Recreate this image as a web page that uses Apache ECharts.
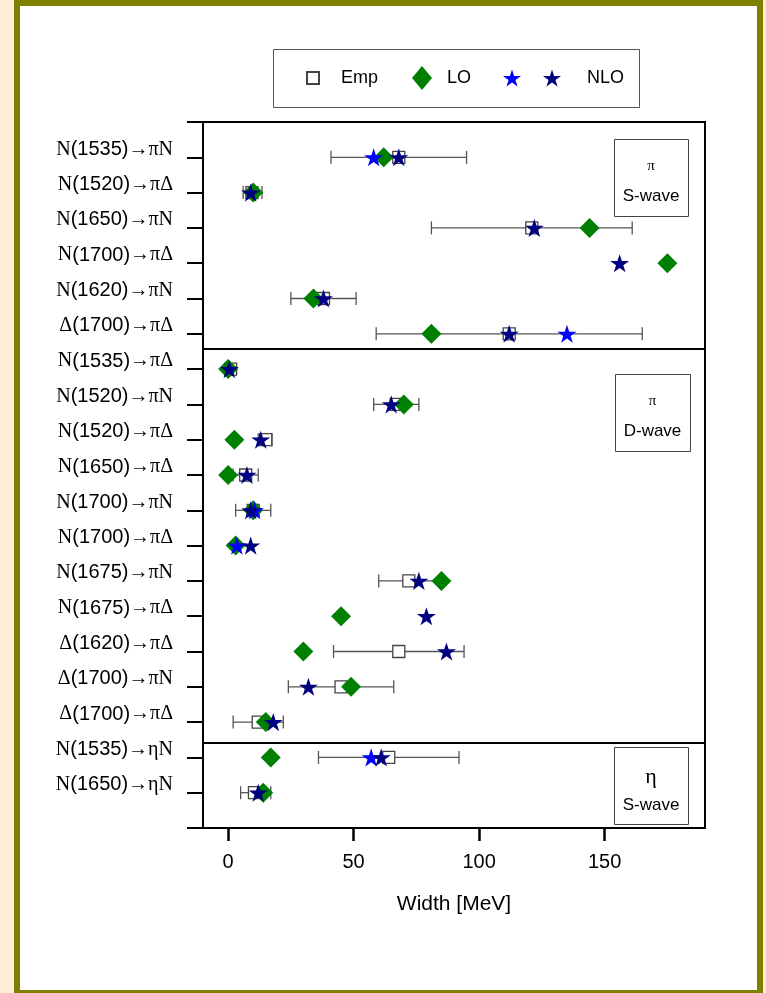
<!DOCTYPE html>
<html>
<head>
<meta charset="utf-8">
<script src="https://cdn.jsdelivr.net/npm/echarts@6/dist/echarts.min.js"></script>
<style>
html,body{margin:0;padding:0;background:#FCEFD6;}
#chart{width:766px;height:993px;}
</style>
</head>
<body>
<div id="chart"></div>
<script>
// Categories (top to bottom)
const categories = [
  'N(1535)→πN','N(1520)→πΔ','N(1650)→πN','N(1700)→πΔ','N(1620)→πN','Δ(1700)→πΔ',
  'N(1535)→πΔ','N(1520)→πN','N(1520)→πΔ','N(1650)→πΔ','N(1700)→πN','N(1700)→πΔ',
  'N(1675)→πN','N(1675)→πΔ','Δ(1620)→πΔ','Δ(1700)→πN','Δ(1700)→πΔ',
  'N(1535)→ηN','N(1650)→ηN'
];
// Empirical widths [MeV] with error range
const empValue = [68, 9.5, 121, null, 38, 112, 1, 67, 15, 7, 10, null, 72, null, 68, 45, 12, 64, 10.5];
const empLow   = [41, 6, 81, null, 25, 59, 0, 58, 12, 2, 3, null, 60, null, 42, 24, 2, 36, 5];
const empHigh  = [95, 13.5, 161, null, 51, 165, 2.5, 76, 17.5, 12, 17, null, 84, null, 94, 66, 22, 92, 17];
// LO
const loValue = [62, 10, 144, 175, 34, 81, 0, 70, 2.5, 0, 10, 3, 85, 45, 30, 49, 15, 17, 14];
// NLO (blue)
const nloBlue = [58, null, null, null, null, 135, null, null, null, null, 10.5, 3.5, null, null, null, null, null, 57, null];
// NLO (navy)
const nloNavy = [68, 9, 122, 156, 38, 112, 0.5, 65, 13, 7.5, 9, 9, 76, 79, 87, 32, 18, 61, 12];
// x ticks
const xTicks = [0, 50, 100, 150];
// section dividers (row positions)
const dividers = [6.41, 17.59];

function pts(arr) {
  const out = [];
  arr.forEach((v, i) => { if (v !== null) out.push([v, i + 1]); });
  return out;
}
const errData = [];
empLow.forEach((l, i) => { if (l !== null) errData.push([l, empHigh[i], i + 1]); });

const STAR = 'path://M50,0L61.23,34.55L97.55,34.55L68.17,55.9L79.39,90.45L50,69.1L20.61,90.45L31.83,55.9L2.45,34.55L38.77,34.55Z';

const chart = echarts.init(document.getElementById('chart'));

function box(x, y, w, h, sym, symSize, symFont, symY, word, wordY) {
  return [
    {type:'rect', shape:{x:x+0.5, y:y+0.5, width:w, height:h}, style:{fill:'#fff', stroke:'#444', lineWidth:1}, z:10},
    {type:'text', x:x+w/2, y:symY, style:{text:sym, fontSize:symSize, fontFamily:'Liberation Serif', fill:'#000', align:'center', verticalAlign:'middle'}, z:11},
    {type:'text', x:x+w/2, y:wordY, style:{text:word, fontSize:17, fontFamily:'Liberation Sans', fill:'#000', align:'center', verticalAlign:'middle'}, z:11}
  ];
}

const option = {
  backgroundColor: '#FCEFD6',
  animation: false,
  graphic: [
    {type:'rect', shape:{x:17, y:3, width:743, height:990}, style:{fill:'#fff', stroke:'#808000', lineWidth:6}, z:-100},
    {type:'rect', shape:{x:273.5, y:49.5, width:366, height:58}, style:{fill:'none', stroke:'#555', lineWidth:1}, z:1}
  ].concat(
    box(614, 139, 74, 77, 'π', 15, 'Liberation Serif', 166, 'S-wave', 196),
    box(615, 374, 75, 77, 'π', 15, 'Liberation Serif', 401, 'D-wave', 431),
    box(614, 747, 74, 77, 'η', 22, 'Liberation Serif', 777, 'S-wave', 805)
  ),
  legend: [
    {data:['Emp'], left:306, top:69, padding:0, itemWidth:12, itemHeight:12, selectedMode:false,
     textStyle:{fontSize:18, fontFamily:'Liberation Sans', color:'#000', padding:[0,0,0,17]}},
    {data:['LO'], left:412, top:66, padding:0, itemWidth:20, itemHeight:24, selectedMode:false,
     textStyle:{fontSize:18, fontFamily:'Liberation Sans', color:'#000', padding:[0,0,0,10]}},
    {data:['NLO (a)'], left:503, top:69, padding:0, itemWidth:18, itemHeight:18, selectedMode:false,
     formatter:function(){return '';}, textStyle:{fontSize:18}},
    {data:['NLO'], left:543, top:69, padding:0, itemWidth:18, itemHeight:18, selectedMode:false,
     textStyle:{fontSize:18, fontFamily:'Liberation Sans', color:'#000', padding:[0,0,0,21]}}
  ],
  grid: {left:203, right:61, top:122, bottom:165, show:true, borderColor:'#000', borderWidth:2, backgroundColor:'transparent'},
  xAxis: {
    type:'value', min:-10, max:190, position:'bottom',
    axisLine:{show:true, onZero:false, lineStyle:{color:'#000', width:2}},
    axisTick:{show:true, customValues:xTicks, length:13, inside:false, lineStyle:{color:'#000', width:2.5}},
    axisLabel:{customValues:xTicks, fontSize:20, fontFamily:'Liberation Sans', color:'#000', margin:24},
    splitLine:{show:false},
    name:'Width [MeV]', nameLocation:'middle', nameGap:66,
    nameTextStyle:{fontSize:21, fontFamily:'Liberation Sans', color:'#000'}
  },
  yAxis: {
    type:'value', min:0, max:20, interval:1, inverse:true, position:'left',
    axisLine:{show:true, onZero:false, lineStyle:{color:'#000', width:2}},
    axisTick:{show:true, length:16, lineStyle:{color:'#000', width:2}},
    splitLine:{show:false},
    axisLabel:{
      margin:30, padding:[0,0,16,0],
      formatter:function(v){
        const c = categories[v-1];
        if (!c) return '';
        const m = c.match(/^(.)(\(\d+\))(.*)$/);
        return '{s|' + m[1] + '}{a|' + m[2] + '}{s|' + m[3] + '}';
      },
      rich:{
        s:{fontSize:20, fontFamily:'Liberation Serif', color:'#000'},
        a:{fontSize:20, fontFamily:'Liberation Sans', color:'#000'}
      }
    }
  },
  series: [
    {
      name:'Emp err', type:'custom', silent:true,
      data: errData,
      encode:{x:[0,1], y:2},
      renderItem:function(params, api){
        const y = api.value(2);
        const p1 = api.coord([api.value(0), y]);
        const p2 = api.coord([api.value(1), y]);
        const st = {stroke:'#555', lineWidth:1.3};
        return {type:'group', children:[
          {type:'line', shape:{x1:p1[0], y1:p1[1], x2:p2[0], y2:p2[1]}, style:st},
          {type:'line', shape:{x1:p1[0], y1:p1[1]-6.5, x2:p1[0], y2:p1[1]+6.5}, style:st},
          {type:'line', shape:{x1:p2[0], y1:p2[1]-6.5, x2:p2[0], y2:p2[1]+6.5}, style:st}
        ]};
      }
    },
    {
      name:'Emp', type:'scatter', data: pts(empValue), symbol:'rect', symbolSize:12,
      itemStyle:{color:'#fff', borderColor:'#444', borderWidth:1.3, opacity:1}
    },
    {
      name:'LO', type:'scatter', data: pts(loValue), symbol:'diamond', symbolSize:20,
      itemStyle:{color:'#008000', opacity:1}
    },
    {
      name:'NLO (a)', type:'scatter', data: pts(nloBlue), symbol:STAR, symbolSize:19, symbolKeepAspect:true,
      itemStyle:{color:'#0000FF', opacity:1}
    },
    {
      name:'NLO', type:'scatter', data: pts(nloNavy), symbol:STAR, symbolSize:19, symbolKeepAspect:true,
      itemStyle:{color:'#000080', opacity:1},
      markLine:{
        silent:true, symbol:['none','none'], label:{show:false},
        lineStyle:{color:'#000', width:2, type:'solid'},
        data: dividers.map(d => ({yAxis:d}))
      }
    }
  ]
};
chart.setOption(option);
</script>
</body>
</html>
